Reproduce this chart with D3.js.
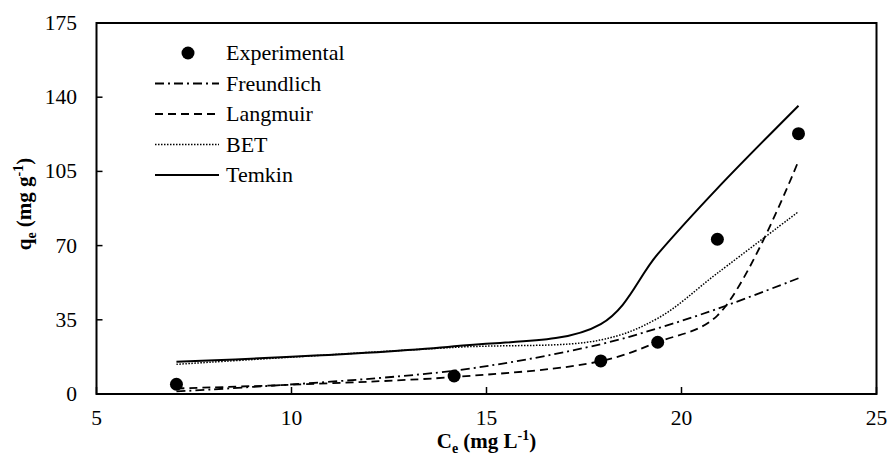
<!DOCTYPE html>
<html>
<head>
<meta charset="utf-8">
<script src="https://cdn.jsdelivr.net/npm/d3@7"></script>
<style>
  body { margin: 0; background: #fff; }
  svg text { font-family: "Times New Roman", "Liberation Serif", serif; }
</style>
</head>
<body>
<svg id="chart" width="889" height="457"></svg>
<script>
// Ce (mg/L) at which experiments / model fits were evaluated
var ce = [7.05, 14.17, 17.93, 19.39, 20.92, 23.0];
var experimental = [4.6, 8.5, 15.6, 24.4, 73.0, 122.8];
var freundlich = [1.2, 11.0, 23.5, 31.0, 40.2, 54.6];
var langmuir = [2.6, 8.0, 15.5, 24.5, 37.0, 110.0];
var bet = [14.0, 22.0, 25.5, 35.7, 57.0, 86.0];
var temkin = [15.2, 22.5, 33.0, 66.0, 97.0, 136.0];

var xTicks = [5, 10, 15, 20, 25];
var yTicks = [0, 35, 70, 105, 140, 175];

var svg = d3.select("#chart");
var plotLeft = 96.5, plotRight = 876.5, plotTop = 23, plotBottom = 394;

var x = d3.scaleLinear().domain([5, 25]).range([plotLeft, plotRight]);
var y = d3.scaleLinear().domain([0, 175]).range([plotBottom, plotTop]);

// frame
svg.append("rect")
  .attr("x", plotLeft).attr("y", plotTop)
  .attr("width", plotRight - plotLeft).attr("height", plotBottom - plotTop)
  .style("fill", "none").style("stroke", "#000").style("stroke-width", 2);

// ticks (inward) and labels
svg.selectAll("line.ytick").data(yTicks).enter().append("line")
  .attr("class", "ytick")
  .attr("x1", plotLeft).attr("x2", plotLeft + 6)
  .attr("y1", d => y(d)).attr("y2", d => y(d))
  .style("stroke", "#000").style("stroke-width", 1.5);

svg.selectAll("text.ylab").data(yTicks).enter().append("text")
  .attr("class", "ylab")
  .attr("x", 77).attr("y", d => y(d) + 7)
  .style("text-anchor", "end").style("font-size", "21.5px")
  .text(d => d);

svg.selectAll("line.xtick").data(xTicks).enter().append("line")
  .attr("class", "xtick")
  .attr("x1", d => x(d)).attr("x2", d => x(d))
  .attr("y1", plotBottom).attr("y2", plotBottom - 7)
  .style("stroke", "#000").style("stroke-width", 1.5);

svg.selectAll("text.xlab").data(xTicks).enter().append("text")
  .attr("class", "xlab")
  .attr("x", d => x(d)).attr("y", 425)
  .style("text-anchor", "middle").style("font-size", "21.5px")
  .text(d => d);

// axis titles
var xt = svg.append("text")
  .attr("x", (plotLeft + plotRight) / 2).attr("y", 448)
  .style("text-anchor", "middle").style("font-size", "21px").style("font-weight", "bold");
xt.append("tspan").text("C");
xt.append("tspan").attr("dy", 5).style("font-size", "14px").text("e");
xt.append("tspan").attr("dy", -5).text(" (mg L");
xt.append("tspan").attr("dy", -8).style("font-size", "14px").text("-1");
xt.append("tspan").attr("dy", 8).text(")");

var yt = svg.append("text")
  .attr("transform", "translate(31, 204) rotate(-90)")
  .style("text-anchor", "middle").style("font-size", "21px").style("font-weight", "bold");
yt.append("tspan").text("q");
yt.append("tspan").attr("dy", 5).style("font-size", "14px").text("e");
yt.append("tspan").attr("dy", -5).text(" (mg g");
yt.append("tspan").attr("dy", -8).style("font-size", "14px").text("-1");
yt.append("tspan").attr("dy", 8).text(")");

// model lines
var series = [
  { name: "Freundlich", values: freundlich, dash: "9,4,2,4", width: 1.8 },
  { name: "Langmuir", values: langmuir, dash: "8,5", width: 1.8 },
  { name: "BET", values: bet, dash: "1.5,1.5", width: 1.5 },
  { name: "Temkin", values: temkin, dash: null, width: 2 }
];

var line = d3.line()
  .x(d => x(d[0])).y(d => y(d[1]))
  .curve(d3.curveCatmullRom.alpha(0.5));

series.forEach(s => {
  svg.append("path")
    .datum(ce.map((c, i) => [c, s.values[i]]))
    .attr("d", line)
    .style("fill", "none").style("stroke", "#000")
    .style("stroke-width", s.width)
    .style("stroke-dasharray", s.dash);
});

// experimental points
svg.selectAll("circle.exp").data(ce).enter().append("circle")
  .attr("class", "exp")
  .attr("cx", d => x(d)).attr("cy", (d, i) => y(experimental[i]))
  .attr("r", 6.5).style("fill", "#000");

// legend
var legendY = [53, 83.5, 114, 144.5, 175];
var legend = svg.append("g").attr("class", "legend");
legend.append("circle").attr("cx", 188).attr("cy", legendY[0]).attr("r", 6.5).style("fill", "#000");
legend.append("text").attr("x", 226).attr("y", legendY[0] + 7).style("font-size", "22px").text("Experimental");
series.forEach((s, i) => {
  var ly = legendY[i + 1];
  legend.append("line")
    .attr("x1", 155).attr("x2", 219).attr("y1", ly).attr("y2", ly)
    .style("stroke", "#000").style("stroke-width", s.width)
    .style("stroke-dasharray", s.dash);
  legend.append("text").attr("x", 226).attr("y", ly + 7).style("font-size", "22px").text(s.name);
});
</script>
</body>
</html>
